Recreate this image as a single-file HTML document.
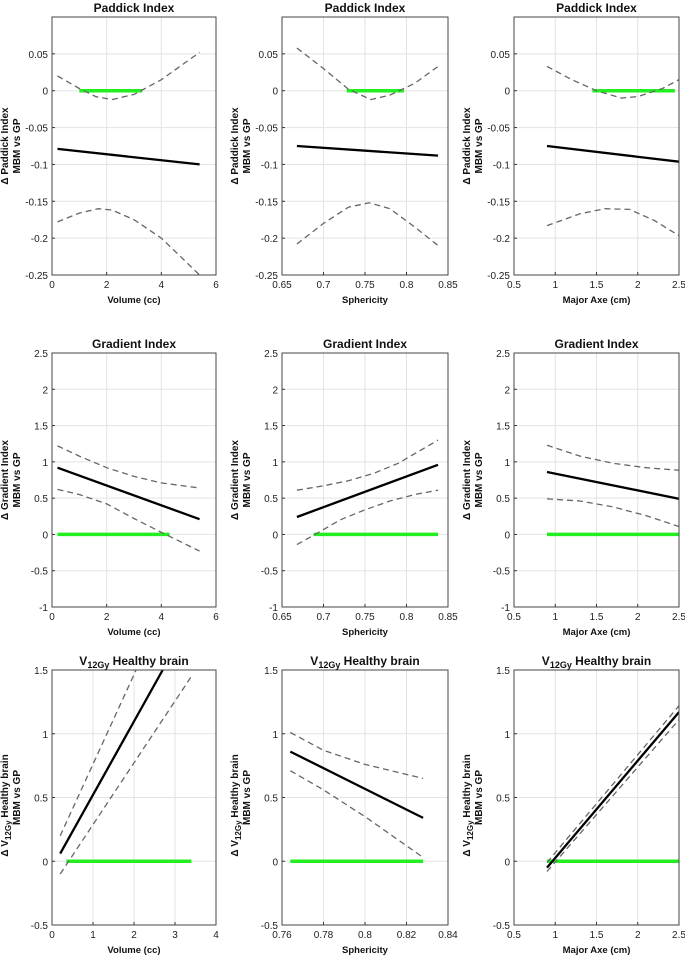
<!DOCTYPE html>
<html><head><meta charset="utf-8"><style>
html,body{margin:0;padding:0;background:#fff}
svg{display:block}
text{font-family:"Liberation Sans",Arial,sans-serif}
</style></head><body>
<svg id="fig" width="685" height="959" xmlns="http://www.w3.org/2000/svg"></svg>
<script>
// ---- data arrays ----
const titles = ["Paddick Index","Paddick Index","Paddick Index","Gradient Index","Gradient Index","Gradient Index","V12Gy","V12Gy","V12Gy"];
const yTitles = ["Paddick Index","Paddick Index","Paddick Index","Gradient Index","Gradient Index","Gradient Index","V12Gy","V12Gy","V12Gy"];
const xTitles = ["Volume (cc)","Sphericity","Major Axe (cm)","Volume (cc)","Sphericity","Major Axe (cm)","Volume (cc)","Sphericity","Major Axe (cm)"];
const xDomains = [[0,6],[0.65,0.85],[0.5,2.5],[0,6],[0.65,0.85],[0.5,2.5],[0,4],[0.76,0.84],[0.5,2.5]];
const yDomains = [[-0.25,0.1],[-0.25,0.1],[-0.25,0.1],[-1,2.5],[-1,2.5],[-1,2.5],[-0.5,1.5],[-0.5,1.5],[-0.5,1.5]];
const xTickLabels = [["0","2","4","6"],["0.65","0.7","0.75","0.8","0.85"],["0.5","1","1.5","2","2.5"],["0","2","4","6"],["0.65","0.7","0.75","0.8","0.85"],["0.5","1","1.5","2","2.5"],["0","1","2","3","4"],["0.76","0.78","0.8","0.82","0.84"],["0.5","1","1.5","2","2.5"]];
const yTickLabels = [["-0.25","-0.2","-0.15","-0.1","-0.05","0","0.05"],["-0.25","-0.2","-0.15","-0.1","-0.05","0","0.05"],["-0.25","-0.2","-0.15","-0.1","-0.05","0","0.05"],["-1","-0.5","0","0.5","1","1.5","2","2.5"],["-1","-0.5","0","0.5","1","1.5","2","2.5"],["-1","-0.5","0","0.5","1","1.5","2","2.5"],["-0.5","0","0.5","1","1.5"],["-0.5","0","0.5","1","1.5"],["-0.5","0","0.5","1","1.5"]];
const fitX = [[0.2,5.4],[0.668,0.838],[0.9,2.55],[0.2,5.4],[0.668,0.838],[0.9,2.55],[0.2,2.7],[0.764,0.828],[0.9,2.5]];
const fitY = [[-0.079,-0.1],[-0.075,-0.088],[-0.075,-0.097],[0.92,0.21],[0.24,0.96],[0.86,0.48],[0.06,1.5],[0.86,0.34],[-0.05,1.17]];
const upX = [[0.2,1,1.6,2.2,3,4,5.4],[0.668,0.7,0.73,0.757,0.78,0.81,0.838],[0.9,1.2,1.5,1.8,2.0,2.3,2.55],[0.2,1,2,3,4,5.4],[0.668,0.7,0.73,0.76,0.79,0.838],[0.9,1.3,1.7,2.1,2.55],[0.2,2.05],[0.764,0.78,0.8,0.828],[0.9,2.5]];
const upY = [[0.02,0.003,-0.008,-0.012,-0.005,0.015,0.052],[0.058,0.03,0.002,-0.012,-0.006,0.01,0.033],[0.033,0.015,0.0,-0.01,-0.008,0.003,0.018],[1.22,1.08,0.92,0.8,0.71,0.64],[0.61,0.67,0.74,0.84,0.98,1.3],[1.23,1.08,0.98,0.92,0.88],[0.2,1.5],[1.01,0.87,0.76,0.65],[-0.01,1.22]];
const loX = [[0.2,1,1.7,2.2,3,4,5.4],[0.668,0.7,0.73,0.755,0.78,0.81,0.838],[0.9,1.3,1.6,1.9,2.2,2.55],[0.2,1,2,3,4,5.4],[0.668,0.69,0.72,0.75,0.78,0.81,0.838],[0.9,1.3,1.7,2.1,2.55],[0.2,3.4],[0.764,0.78,0.8,0.828],[0.9,2.5]];
const loY = [[-0.178,-0.166,-0.16,-0.162,-0.175,-0.2,-0.25],[-0.208,-0.18,-0.158,-0.152,-0.16,-0.185,-0.21],[-0.183,-0.167,-0.16,-0.161,-0.176,-0.2],[0.62,0.55,0.42,0.22,0.03,-0.23],[-0.14,0.0,0.2,0.34,0.46,0.55,0.61],[0.49,0.46,0.38,0.26,0.09],[-0.1,1.45],[0.71,0.56,0.35,0.03],[-0.08,1.11]];
const greenX = [[1.0,3.3],[0.728,0.797],[1.45,2.45],[0.2,4.3],[0.688,0.838],[0.9,2.55],[0.35,3.4],[0.764,0.828],[0.9,2.5]];

// ---- layout ----
const colL=[52,282,514], colR=[216,448,679];
const rowT=[17,353,670], rowB=[275,607,925];
const NS="http://www.w3.org/2000/svg";
const svg=document.getElementById('fig');
function mk(tag,attrs,parent){const e=document.createElementNS(NS,tag);for(const k in attrs)e.setAttribute(k,attrs[k]);(parent||svg).appendChild(e);return e;}

for(let p=0;p<9;p++){
  const r=Math.floor(p/3), c=p%3;
  const L=colL[c],R=colR[c],T=rowT[r],B=rowB[r];
  const [x0,x1]=xDomains[p],[y0,y1]=yDomains[p];
  const sx=v=>L+(v-x0)/(x1-x0)*(R-L);
  const sy=v=>B-(v-y0)/(y1-y0)*(B-T);
  const g=mk('g',{});
  
  
  const clipId='clip'+p;
  const cp=mk('clipPath',{id:clipId},g);mk('rect',{x:L,y:T,width:R-L,height:B-T},cp);
  const xt=xTickLabels[p], yt=yTickLabels[p];
  xt.forEach(s=>{const v=parseFloat(s),x=sx(v);
    mk('line',{x1:x,x2:x,y1:T,y2:B,stroke:'#e3e3e3','stroke-width':1},g);
    mk('line',{x1:x,x2:x,y1:B,y2:B-3,stroke:'#333'},g);
    const t=mk('text',{x:x,y:B+13,'font-size':10,'text-anchor':'middle',fill:'#222'},g);t.textContent=s;
    
    
  });
  yt.forEach(s=>{const v=parseFloat(s),y=sy(v);
    mk('line',{x1:L,x2:R,y1:y,y2:y,stroke:'#e3e3e3','stroke-width':1},g);
    mk('line',{x1:L,x2:L+3,y1:y,y2:y,stroke:'#333'},g);
    const t=mk('text',{x:L-4,y:y+4,'font-size':10,'text-anchor':'end',fill:'#222'},g);t.textContent=s;
    
    
  });
  const pg=mk('g',{'clip-path':'url(#'+clipId+')'},g);
  const pts=(xs,ys)=>xs.map((v,i)=>sx(v).toFixed(1)+','+sy(ys[i]).toFixed(1)).join(' ');
  const gr=mk('line',{x1:sx(greenX[p][0]),x2:sx(greenX[p][1]),y1:sy(0),y2:sy(0),stroke:'#22ee22','stroke-width':3.5},pg);
  
  
  const up=mk('polyline',{points:pts(upX[p],upY[p]),fill:'none',stroke:'#666','stroke-width':1.3,'stroke-dasharray':'6,4'},pg);
  
  
  const lo=mk('polyline',{points:pts(loX[p],loY[p]),fill:'none',stroke:'#666','stroke-width':1.3,'stroke-dasharray':'6,4'},pg);
  
  
  const ft=mk('polyline',{points:pts(fitX[p],fitY[p]),fill:'none',stroke:'#000','stroke-width':2.3},pg);
  
  
  mk('rect',{x:L,y:T,width:R-L,height:B-T,fill:'none',stroke:'#444','stroke-width':1},g);
  const cx=(L+R)/2;
  const tt=mk('text',{x:cx,y:T-5,'font-size':12,'font-weight':'bold','text-anchor':'middle',fill:'#111'},g);
  
  
  if(r<2){tt.textContent=titles[p];}
  else{tt.innerHTML='V<tspan font-size="9" dy="3">12Gy</tspan><tspan dy="-3"> Healthy brain</tspan>';}
  const xl=mk('text',{x:cx,y:B+28,'font-size':9.5,'font-weight':'bold','text-anchor':'middle',fill:'#111'},g);
  xl.textContent=xTitles[p];
  
  
  const cy=(T+B)/2 + (r===2?8:0);
  const yl=mk('text',{x:0,y:0,'font-size':10,'font-weight':'bold','text-anchor':'middle',fill:'#111',transform:`translate(${L-44},${cy}) rotate(-90)`},g);
  
  
  if(r<2) yl.textContent='\u0394 '+yTitles[p];
  else yl.innerHTML='\u0394 V<tspan font-size="8" dy="3">12Gy</tspan><tspan dy="-3"> Healthy brain</tspan>';
  const yl2=mk('text',{x:0,y:0,'font-size':10,'font-weight':'bold','text-anchor':'middle',fill:'#111',transform:`translate(${L-32},${(T+B)/2}) rotate(-90)`},g);
  yl2.textContent='MBM vs GP';
  
  
}
</script>
</body></html>
